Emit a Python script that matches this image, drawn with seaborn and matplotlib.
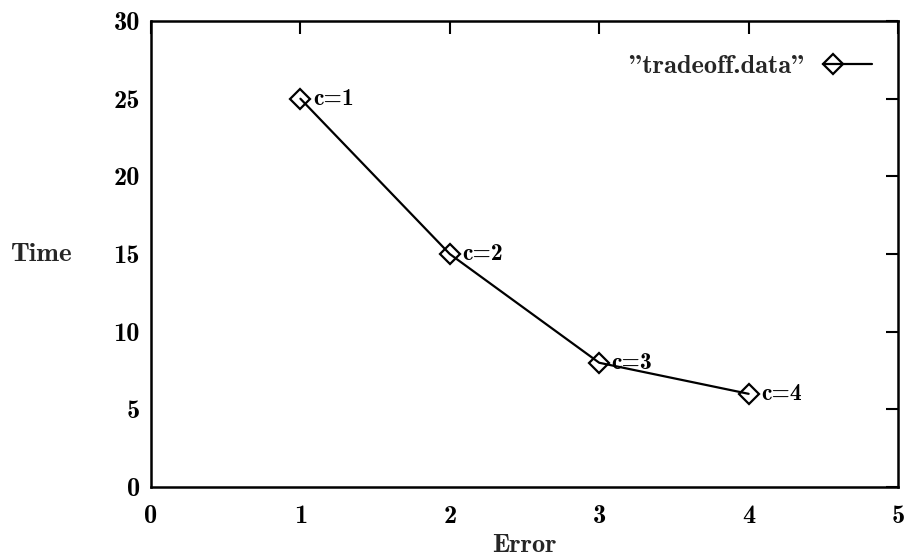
import matplotlib
matplotlib.use("Agg")
import matplotlib.pyplot as plt
import seaborn as sns
import pandas as pd
from matplotlib.legend_handler import HandlerLine2D

# Error/time tradeoff for different values of c
error = [1, 2, 3, 4]
time = [25, 15, 8, 6]
point_labels = ["c=1", "c=2", "c=3", "c=4"]
series_name = '"tradeoff.data"'
x_ticks = [0, 1, 2, 3, 4, 5]
y_ticks = [0, 5, 10, 15, 20, 25, 30]

MARKER_SIZE = 10

sns.set_theme(style="white")
plt.rcParams["font.family"] = ["cmb10", "DejaVu Serif"]
plt.rcParams["axes.unicode_minus"] = False


class PointLeftHandler(HandlerLine2D):
    """Legend key with the point near the left end and the line running right."""

    def create_artists(self, legend, orig_handle, xdescent, ydescent,
                       width, height, fontsize, trans):
        artists = super().create_artists(legend, orig_handle, xdescent,
                                         ydescent, width, height, fontsize,
                                         trans)
        x0 = -xdescent
        mx = x0 + 0.26 * width
        half = MARKER_SIZE * 0.707
        for art in artists:
            xd = list(art.get_xdata())
            if len(xd) == 3:
                art.set_xdata([mx - half, mx, x0 + width])
        return artists


df = pd.DataFrame({"Error": error, "Time": time, "series": series_name})

fig = plt.figure(figsize=(9.06, 5.55), dpi=100)
ax = fig.add_axes([0.1667, 0.1225, 0.8245, 0.8395])

sns.lineplot(data=df, x="Error", y="Time", hue="series", palette=["black"],
             marker="D", markersize=MARKER_SIZE, markerfacecolor="none",
             markeredgecolor="black", markeredgewidth=1.6, linewidth=1.6,
             ax=ax, legend=True)

for xv, yv, lab in zip(error, time, point_labels):
    ax.annotate(lab, (xv, yv), xytext=(9, 0), textcoords="offset points",
                ha="left", va="center", fontsize=17, color="black")

ax.set_xlim(0, 5)
ax.set_ylim(0, 30)
ax.set_xticks(x_ticks)
ax.set_yticks(y_ticks)
ax.tick_params(direction="in", length=9, width=1.5, top=True, right=True,
               labelsize=19, colors="black")
ax.tick_params(axis="x", pad=13)
ax.tick_params(axis="y", pad=8)
ax.set_xlabel("Error", fontsize=19, labelpad=4)
ax.set_ylabel("Time", fontsize=19.5, rotation=0, labelpad=52, va="center")
for sp in ax.spines.values():
    sp.set_linewidth(1.8)
    sp.set_color("black")

handles, labels = ax.get_legend_handles_labels()
leg = ax.legend(handles, labels, loc="upper right", bbox_to_anchor=(1.0, 0.985),
                frameon=False, markerfirst=False, fontsize=19,
                handlelength=2.0, handletextpad=0.5, borderaxespad=0.6,
                handler_map={type(handles[0]): PointLeftHandler()})

fig.savefig("out.png", dpi=100)
